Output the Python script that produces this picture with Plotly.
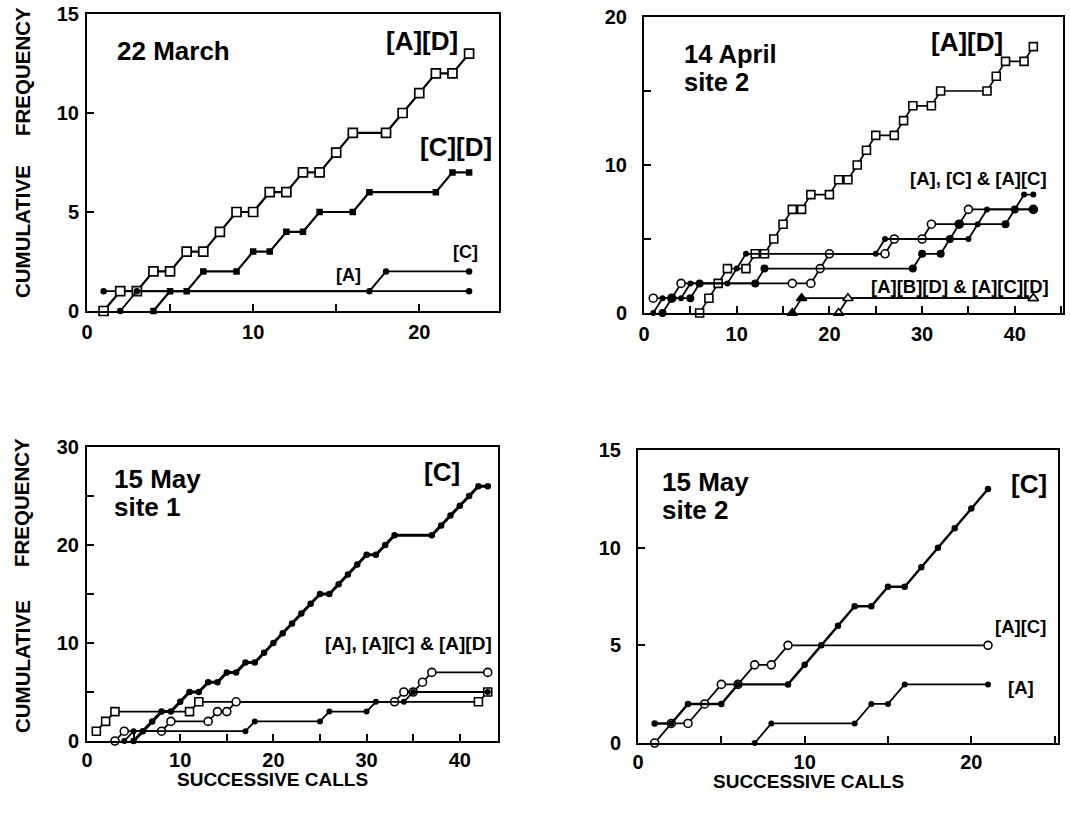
import plotly.graph_objects as go

W, H = 1070, 817
FONT = "Liberation Sans, Arial, Helvetica, sans-serif"
OFF = 0  # body margin removed by the post script below

# ---------------- data (call number, cumulative frequency) ----------------
# Panel 1: 22 March
p1_ad_x = [1, 2, 3, 4, 5, 6, 7, 8, 9, 10, 11, 12, 13, 14, 15, 16, 18, 19, 20, 21, 22, 23]
p1_ad_y = [0, 1, 1, 2, 2, 3, 3, 4, 5, 5, 6, 6, 7, 7, 8, 9, 9, 10, 11, 12, 12, 13]
p1_cd_x = [4, 5, 6, 7, 9, 10, 11, 12, 13, 14, 16, 17, 21, 22, 23]
p1_cd_y = [0, 1, 1, 2, 2, 3, 3, 4, 4, 5, 5, 6, 6, 7, 7]
p1_a_x = [1, 23]
p1_a_y = [1, 1]
p1_c_x = [2, 3, 17, 18, 23]
p1_c_y = [0, 1, 1, 2, 2]

# Panel 2: 14 April site 2
p2_ad_x = [6, 7, 8, 9, 11, 12, 13, 14, 15, 16, 17, 18, 20, 21, 22, 23, 24, 25, 27, 28, 29, 31, 32, 37, 38, 39, 41, 42]
p2_ad_y = [0, 1, 2, 3, 3, 4, 4, 5, 6, 7, 7, 8, 8, 9, 9, 10, 11, 12, 12, 13, 14, 14, 15, 15, 16, 17, 17, 18]
p2_oc_x = [1, 3, 4, 16, 18, 19, 20, 26, 27, 30, 31, 34, 35, 42]
p2_oc_y = [1, 1, 2, 2, 2, 3, 4, 4, 5, 5, 6, 6, 7, 7]
p2_dot_x = [1, 2, 4, 5, 9, 10, 11, 25, 26, 35, 36, 37, 40, 41, 42]
p2_dot_y = [0, 1, 1, 2, 2, 3, 4, 4, 5, 5, 6, 7, 7, 8, 8]
p2_fc_x = [2, 3, 5, 6, 12, 13, 29, 30, 32, 33, 34, 39, 40, 42]
p2_fc_y = [0, 1, 1, 2, 2, 3, 3, 4, 4, 5, 6, 6, 7, 7]
p2_tf_x = [16, 17, 42]
p2_tf_y = [0, 1, 1]
p2_to_x = [21, 22, 42]
p2_to_y = [0, 1, 1]

# Panel 3: 15 May site 1
p3_c_x = [5, 6, 7, 8, 9, 10, 11, 12, 13, 14, 15, 16, 17, 18, 19, 20, 21, 22, 23, 24, 25, 26,
          27, 28, 29, 30, 31, 32, 33, 37, 38, 39, 40, 41, 42, 43]
p3_c_y = [0, 1, 2, 3, 3, 4, 5, 5, 6, 6, 7, 7, 8, 8, 9, 10, 11, 12, 13, 14, 15, 15,
          16, 17, 18, 19, 19, 20, 21, 21, 22, 23, 24, 25, 26, 26]
p3_sq_x = [1, 2, 3, 11, 12, 42, 43]
p3_sq_y = [1, 2, 3, 3, 4, 4, 5]
p3_oc_x = [3, 4, 8, 9, 13, 14, 15, 16, 33, 34, 35, 36, 37, 43]
p3_oc_y = [0, 1, 1, 2, 2, 3, 3, 4, 4, 5, 5, 6, 7, 7]
p3_dot_x = [4, 5, 17, 18, 25, 26, 30, 31, 34, 35, 43]
p3_dot_y = [0, 1, 1, 2, 2, 3, 3, 4, 4, 5, 5]

# Panel 4: 15 May site 2
p4_c_x = [1, 2, 3, 5, 6, 9, 10, 11, 12, 13, 14, 15, 16, 17, 18, 19, 20, 21]
p4_c_y = [1, 1, 2, 2, 3, 3, 4, 5, 6, 7, 7, 8, 8, 9, 10, 11, 12, 13]
p4_ac_x = [1, 2, 3, 4, 5, 6, 7, 8, 9, 21]
p4_ac_y = [0, 1, 1, 2, 3, 3, 4, 4, 5, 5]
p4_a_x = [7, 8, 13, 14, 15, 16, 21]
p4_a_y = [0, 1, 1, 2, 2, 3, 3]

# ---------------- helpers ----------------
def fx(px):
    return (px - OFF) / W

def fy(py):
    return 1 - (py - OFF) / H

fig = go.Figure()

def line(x, y, ax, symbol, size, lw, fill='black', mlw=1.5):
    fig.add_trace(go.Scatter(
        x=x, y=y, xaxis='x' + ax, yaxis='y' + ax, mode='lines+markers',
        line=dict(color='black', width=lw),
        marker=dict(symbol=symbol, size=size, color=fill,
                    line=dict(color='black', width=mlw)),
        cliponaxis=False, showlegend=False, hoverinfo='skip'))

# panel 1
line(p1_a_x, p1_a_y, '', 'circle', 5, 1.7)
line(p1_ad_x, p1_ad_y, '', 'square', 9, 2.2, fill='white', mlw=1.7)
line(p1_cd_x, p1_cd_y, '', 'square', 5, 2.2)
line(p1_c_x, p1_c_y, '', 'circle', 5, 1.9)

# panel 2
line(p2_ad_x, p2_ad_y, '2', 'square', 8, 1.7, fill='white', mlw=1.6)
line(p2_oc_x, p2_oc_y, '2', 'circle', 8, 1.8, fill='white', mlw=1.6)
line(p2_dot_x, p2_dot_y, '2', 'circle', 4.5, 1.8)
line(p2_fc_x, p2_fc_y, '2', 'circle', 6.5, 1.8)
line(p2_tf_x, p2_tf_y, '2', 'triangle-up', 9, 1.7)
line(p2_to_x, p2_to_y, '2', 'triangle-up', 9, 1.7, fill='white', mlw=1.6)

# panel 3
line(p3_c_x, p3_c_y, '3', 'circle', 5, 3)
line(p3_sq_x, p3_sq_y, '3', 'square', 8, 1.7, fill='white', mlw=1.6)
line(p3_oc_x, p3_oc_y, '3', 'circle', 8, 1.7, fill='white', mlw=1.6)
line(p3_dot_x, p3_dot_y, '3', 'circle', 4.5, 1.8)

# panel 4
line(p4_ac_x, p4_ac_y, '4', 'circle', 8, 1.8, fill='white', mlw=1.6)
line(p4_a_x, p4_a_y, '4', 'circle', 4.5, 1.8)
line(p4_c_x, p4_c_y, '4', 'circle', 5, 2.4)

tickfont = dict(family=FONT, size=20, color='black', weight='bold')

def axis(px0, px1, rng, dtick, minor=None, anchor=None, standoff=0, vertical=False):
    if vertical:
        dom = [fy(px1), fy(px0)]
    else:
        dom = [fx(px0), fx(px1)]
    d = dict(domain=dom, range=rng, showline=True, linecolor='black', linewidth=2,
             mirror=True, ticks='inside', ticklen=7, tickwidth=2, tickcolor='black',
             tick0=0, dtick=dtick, showgrid=False, zeroline=False, tickfont=tickfont,
             anchor=anchor, ticklabelstandoff=standoff, fixedrange=True,
             automargin=False, ticklabeloverflow='allow')
    if minor:
        d['minor'] = dict(tick0=0, dtick=minor, ticks='inside', ticklen=7, tickwidth=2,
                          tickcolor='black', showgrid=False)
    return d

layout = dict(
    template='none',
    width=W, height=H, autosize=False,
    margin=dict(l=0, r=0, t=0, b=0, pad=0),
    paper_bgcolor='white', plot_bgcolor='white',
    hovermode=False,
    xaxis=axis(87, 499, [0, 24.8], 10, 5, 'y', 2),
    yaxis=axis(14, 311, [0, 15], 5, None, 'x', 2, vertical=True),
    xaxis2=axis(644, 1063, [0, 45.2], 10, 5, 'y2', 2),
    yaxis2=axis(17, 313, [0, 20], 10, 5, 'x2', 11, vertical=True),
    xaxis3=axis(87, 498, [0, 44.1], 10, 5, 'y3', 0),
    yaxis3=axis(447, 741, [0, 30], 10, 5, 'x3', 2, vertical=True),
    xaxis4=axis(638, 1058, [0, 25.2], 10, 5, 'y4', 0),
    yaxis4=axis(450, 743, [0, 15], 5, None, 'x4', 11, vertical=True),
)

ann = []

def text(t, px, py, size, xanchor='center', angle=0):
    ann.append(dict(text='<b>' + t + '</b>', x=fx(px), y=fy(py), xref='paper', yref='paper',
                    xanchor=xanchor, yanchor='middle', showarrow=False, textangle=angle,
                    font=dict(family=FONT, size=size, color='black')))

# panel 1
text('22 March', 115, 51, 26, 'left')
text('[A][D]', 422, 41, 26)
text('[C][D]', 456, 147, 26)
text('[C]', 465, 252, 18)
text('[A]', 348, 275, 18)
# panel 2
text('14 April', 682, 54, 25.5, 'left')
text('site 2', 682, 82, 25.5, 'left')
text('[A][D]', 967, 42, 26)
text('[A], [C] &amp; [A][C]', 978, 178, 18.5)
text('[A][B][D] &amp; [A][C][D]', 960, 286, 18.5)
# panel 3
text('15 May', 112, 479, 26, 'left')
text('site 1', 112, 507, 26, 'left')
text('[C]', 442, 472, 26)
text('[A], [A][C] &amp; [A][D]', 408, 643, 19)
# panel 4
text('15 May', 660, 482, 26, 'left')
text('site 2', 660, 510, 26, 'left')
text('[C]', 1029, 484, 26)
text('[A][C]', 1020, 626, 18.5)
text('[A]', 1021, 687, 18.5)
# axis titles
text('CUMULATIVE', 22, 232, 20.5, angle=-90)
text('FREQUENCY', 22, 72, 20.5, angle=-90)
text('CUMULATIVE', 22, 667, 20.5, angle=-90)
text('FREQUENCY', 22, 503, 20.5, angle=-90)
text('SUCCESSIVE CALLS', 272, 779, 19)
text('SUCCESSIVE CALLS', 808, 781, 19)

layout['annotations'] = ann
fig.update_layout(**layout)
fig.write_html("out.html",
               config={'displayModeBar': False, 'staticPlot': True},
               post_script="document.body.style.margin='0px';document.body.style.overflow='hidden';")
